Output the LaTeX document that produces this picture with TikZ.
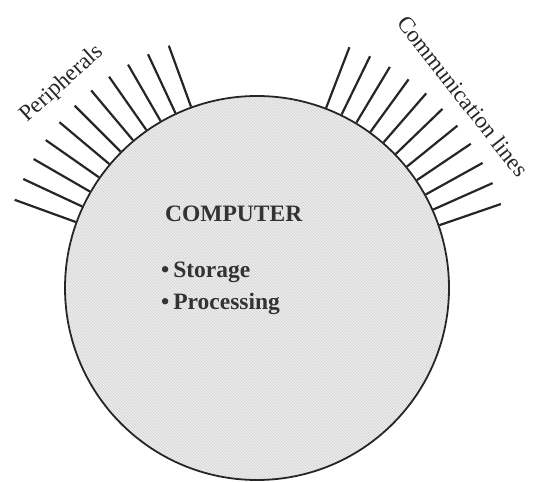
\documentclass[tikz,border=0pt]{standalone}
\usepackage{fontspec}
\setmainfont{Liberation Serif}
\usepackage{tikz}
\usetikzlibrary{patterns}
\tikzstyle{computer} = [draw=black!85, line width=1.8pt, circle, minimum size=384pt, inner sep=0pt, preaction={fill=black!7}, pattern=north west lines, pattern color=black!18]
\tikzstyle{spoke} = [black!85, line width=2.2pt]
\tikzstyle{arclabel} = [inner sep=0pt, font=\fontsize{23}{27}\selectfont, text=black!85]
\tikzstyle{inlabel} = [inner sep=0pt, anchor=base west, font=\fontsize{23.5}{27}\selectfont\bfseries, text=black!80]

\begin{document}
\begin{tikzpicture}[x=1pt, y=1pt]

\useasboundingbox (0,0) rectangle (537,481);

\node[computer] (comp) at (257,193) {};

% peripherals and communication lines
\foreach \a in {110,115,...,160}
  \draw[spoke] (comp.\a) -- ++(\a:65);
\foreach \a in {19,24,...,69}
  \draw[spoke] (comp.\a) -- ++(\a:65);

\node[arclabel, rotate=42] (periph) at (62,397) {Peripherals};
\node[arclabel, rotate=-52] (comm) at (463,385) {Communication lines};

\node[inlabel] (title) at (165,259) {COMPUTER};
\node[inlabel] (store) at (161,203) {\textbullet\,Storage};
\node[inlabel] (proc) at (161,171) {\textbullet\,Processing};

\end{tikzpicture}
\end{document}
